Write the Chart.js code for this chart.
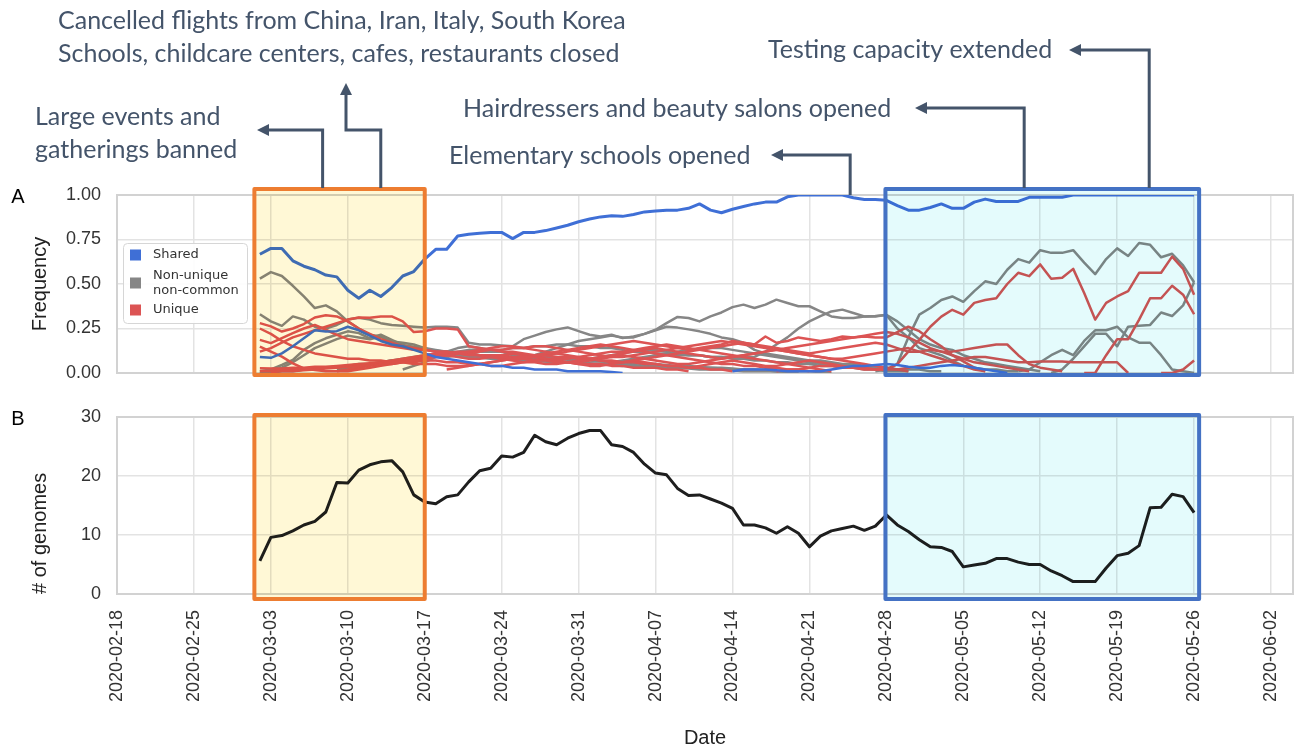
<!DOCTYPE html>
<html>
<head>
<meta charset="utf-8">
<script src="https://cdn.jsdelivr.net/npm/chart.js@4.4.1/dist/chart.umd.min.js"></script>
<style>
  html, body { margin: 0; padding: 0; background: #fff; overflow: hidden; }
  #wrap { position: relative; width: 1298px; height: 747px; }
  canvas { position: absolute; left: 0; }
</style>
</head>
<body>
<div id="wrap">
  <canvas id="freqChart" width="1298" height="380" style="top:0"></canvas>
  <canvas id="genomeChart" width="1298" height="358" style="top:392px"></canvas>
</div>
<script>
// ---- data (daily values, each series starts at the date given next to it) ----
const tickDates = ['2020-02-18','2020-02-25','2020-03-03','2020-03-10','2020-03-17','2020-03-24','2020-03-31','2020-04-07',
  '2020-04-14','2020-04-21','2020-04-28','2020-05-05','2020-05-12','2020-05-19','2020-05-26','2020-06-02'];
const groupLabels = { shared: ['Shared'], nonunique: ['Non-unique', 'non-common'], unique: ['Unique'] };

// Shared
const shared1 = [0.667,0.70,0.70,0.63,0.60,0.58,0.55,0.54,0.465,0.42,
  0.465,0.43,0.48,0.545,0.57,0.64,0.695,0.695,0.77,0.78,
  0.785,0.79,0.79,0.755,0.79,0.79,0.80,0.815,0.83,0.85,
  0.865,0.877,0.883,0.88,0.89,0.905,0.91,0.915,0.915,0.925,
  0.95,0.915,0.90,0.92,0.935,0.95,0.96,0.96,0.99,1.0,
  1.0,1.0,1.0,1.0,0.985,0.975,0.975,0.97,0.94,0.915,
  0.915,0.93,0.95,0.925,0.925,0.96,0.977,0.964,0.964,0.964,
  0.987,0.987,0.987,0.987,1.0,1.0,1.0,1.0,1.0,1.0,
  1.0,1.0,1.0,1.0,1.0,1.0];
const shared2 = [0.09,0.085,0.11,0.15,0.195,0.24,0.233,0.235,0.26,0.24,
  0.21,0.18,0.16,0.15,0.13,0.11,0.09,0.08,0.07,0.06,
  0.05,0.04,0.04,0.03,0.03,0.02,0.02,0.02,0.01,0.01,
  0.01,0.01,0.005,0];
const shared3 = [0.01,0.02,0.02,0.02,0.015,0.01,0.01,0.01,0.01,0.02,0.03,0.04,0.04,0.045,0.05,0.045,0.035,0.03,0.03,0.04,
  0.045,0.04,0.03,0.02,0.01,0];

// Non-unique non-common
const grayA = [0.53,0.567,0.545,0.49,0.43,0.365,0.38,0.346,0.29,0.25,
  0.215,0.205,0.177,0.17,0.16,0.14,0.13,0.12,0.11,0.10,
  0.09,0.085,0.08,0.08,0.075,0.07,0.065,0.06,0.06,0.055,
  0.05,0.05,0.045,0.04,0.04,0.035,0.03,0.03,0.03,0.025,
  0.02,0.02,0.02,0.015,0.01,0.01,0.01,0.01,0.005,0];
const grayB = [0.33,0.29,0.265,0.318,0.30,0.26,0.25,0.27,0.30,0.31,
  0.30,0.28,0.27,0.265,0.26,0.255,0.26,0.26,0.255,0.17,
  0.16,0.16,0.155,0.15,0.19,0.21,0.23,0.245,0.256,0.235,
  0.215,0.205,0.215,0.196,0.205,0.22,0.243,0.28,0.315,0.309,
  0.29,0.318,0.34,0.37,0.384,0.365,0.384,0.412,0.393,0.375,
  0.375,0.346,0.318,0.309,0.309,0.318,0.32,0.326,0.25,0.20,
  0.14,0.12,0.10,0.07,0.04,0.03,0.02,0.02,0.01,0.01];
const grayC = [0.01,0.02,0.045,0.073,0.13,0.168,0.195,0.215,0.234,0.224,
  0.195,0.215,0.186,0.158,0.148,0.139,0.12,0.11,0.10,0.09,
  0.085,0.08,0.08,0.075,0.07,0.07,0.065,0.06,0.06,0.06,
  0.055,0.05,0.05,0.05,0.045,0.04,0.04,0.04,0.035,0.03,
  0.03,0.03,0.025,0.02,0.02,0.02,0.015,0.01,0.01,0.01,
  0.01,0.005,0];
const grayD = [0.0,0.01,0.03,0.06,0.10,0.14,0.165,0.19,0.21,0.20,
  0.19,0.205,0.17,0.15,0.14,0.13,0.125,0.12,0.115,0.11,
  0.10,0.10,0.095,0.09,0.09,0.085,0.08,0.08,0.075,0.07,
  0.07,0.065,0.06,0.06,0.055,0.05,0.05,0.045,0.04,0.04,
  0.035,0.03,0.03,0.025,0.02,0.02,0.015,0.01,0.01,0.005];
const grayE = [0.02,0.03,0.04,0.05,0.06,0.07,0.07,0.08,0.08,0.09,
  0.09,0.10,0.11,0.12,0.12,0.13,0.14,0.14,0.15,0.15,
  0.16,0.16,0.15,0.15,0.14,0.14,0.13,0.12,0.12,0.11,
  0.11,0.10,0.10,0.10,0.09,0.09,0.09,0.09,0.09,
  0.12,0.16,0.20,0.25,0.29,0.32,0.346,0.356,0.337,0.318,
  0.318,0.327,0.29,0.24,0.19,0.16,0.14,0.13,0.10,0.08,
  0.06,0.05,0.04,0.03,0.02,0.01];
const grayF = [0.10,0.12,0.14,0.16,0.18,0.19,0.20,0.21,0.20,0.20,
  0.22,0.24,0.26,0.255,0.245,0.234,0.22,0.20,0.19,0.17,
  0.13,0.11,0.10,0.09,0.08,0.07,0.07,0.06,0.05,0.05,
  0.04,0.04,0.03,0.02,0.01];
const grayG = [0.0,0.0,0.01,0.01,0.02,0.02,0.03,0.03,0.04,0.05,
  0.05,0.06,0.07,0.08,0.09,0.10,0.11,0.12,0.12,0.13,
  0.13,0.12,0.12,0.11,0.10,0.10,0.09,0.09,0.08,0.08,
  0.08,0.09,0.10,0.11,0.12,0.13,0.13,0.12,0.11,0.10,
  0.10,0.09,0.09,0.08,0.08,0.07,0.07,0.06,0.06,0.05,
  0.05,0.04,0.04,0.03,0.03,0.02,0.02,0.01,0.01,0.01];
const grayH = [0.02,0.04,0.06,0.09,0.12,0.14,0.15,
  0.14,0.13,0.12,0.10,0.09,0.08,0.07,0.07,0.06,0.06,
  0.05,0.05,0.06,0.07,0.08,0.09,0.10,0.11,0.12,0.13,
  0.13,0.14,0.14,0.13,0.12,0.11,0.10,0.09,0.08,0.07,
  0.06,0.05,0.05,0.04,0.04,0.03,0.03,0.03,0.02,0.02,
  0.02,0.01,0.01];
const gray1 = [0.01,0.02,0.05,0.20,0.328,0.365,0.41,0.43,0.40,0.46,
  0.515,0.50,0.58,0.64,0.62,0.69,0.675,0.675,0.69,0.62,
  0.555,0.64,0.70,0.657,0.73,0.72,0.65,0.67,0.605,0.51];
const gray2 = [0.01,0.02,0.06,0.10,0.13,0.10,0.18,0.24,0.24,0.26,0.20,0.17,0.17,0.10,0.02,0.01,0.0];
const gray3 = [0.0,0.02,0.08,0.15,0.22,0.22,0.15,0.26,0.265,0.27,0.34,0.32,0.38,0.51];

// Unique
const redA = [0.28,0.262,0.233,0.25,0.275,0.312,0.324,0.318,0.29,0.25,
  0.22,0.19,0.17,0.15,0.14,0.13,0.12,0.12,0.11,0.10,
  0.10,0.09,0.09,0.08,0.08,0.07,0.07,0.06,0.06,0.05,
  0.05,0.05,0.04,0.04,0.03,0.03,0.03,0.02,0.02,0.01];
const redB = [0.12,0.14,0.17,0.20,0.22,0.24,0.26,0.28,0.30,0.312,
  0.31,0.318,0.318,0.29,0.23,0.235,0.25,0.25,0.245,0.15,
  0.14,0.13,0.12,0.12,0.11,0.10,0.10,0.09,0.09,0.08,
  0.08,0.07,0.07,0.06,0.06,0.05,0.05,0.04,0.04,0.03,
  0.03,0.02,0.02,0.01];
const redC = [0.186,0.168,0.196,0.224,0.25,0.27,0.243,0.214,0.19,0.18,
  0.17,0.16,0.15,0.14,0.13,0.13,0.12,0.12,0.11,0.11,
  0.10,0.10,0.10,0.09,0.09,0.09,0.08,0.08,0.08,0.09,
  0.10,0.11,0.12,0.12,0.13,0.14,0.15,0.16,0.15,0.14,
  0.13,0.12,0.11,0.10,0.09,0.08,0.07,0.06,0.05,0.04,
  0.03,0.02,0.01];
const redD = [0.25,0.22,0.18,0.15,0.13,0.11,0.10,0.09,0.08,0.08,
  0.07,0.07,0.06,0.06,0.05,0.05,0.05,0.04,0.04,0.04,
  0.05,0.06,0.07,0.08,0.09,0.10,0.11,0.12,0.13,0.14,
  0.15,0.16,0.15,0.14,0.13,0.12,0.11,0.10,0.09,0.08,
  0.07,0.06,0.05,0.05,0.04,0.04,0.03,0.03,0.02,0.02,
  0.01];
const redE = [0.148,0.12,0.092,0.054,0.026,0.017,0.01,0.01,0.01,0.02,
  0.03,0.04,0.05,0.06,0.07,0.08,0.09,0.10,0.11,0.12,
  0.13,0.14,0.15,0.15,0.14,0.13,0.12,0.11,0.10,0.09,
  0.08,0.07,0.06,0.06,0.07,0.08,0.09,0.10,0.11,0.12,
  0.13,0.14,0.15,0.16,0.17,0.16,0.15,0.14,0.13,0.12,
  0.11,0.12,0.13,0.14,0.15,0.16,0.17,0.16,0.14,0.12,
  0.12,0.13,0.12,0.12,0.13,0.14,0.15,0.16,0.16,0.10,
  0.05,0.03,0.02,0.01];
const redF = [0.026,0.025,0.025,0.03,0.03,0.035,0.035,0.04,0.045,0.05,
  0.055,0.06,0.07,0.08,0.09,0.10,0.11,0.11,0.12,0.12,
  0.12,0.13,0.13,0.14,0.14,0.15,0.15,0.14,0.13,0.12,
  0.11,0.10,0.09,0.09,0.10,0.11,0.12,0.13,0.14,0.15,
  0.16,0.17,0.18,0.17,0.16,0.15,0.14,0.13,0.12,0.11,
  0.10,0.09,0.08,0.07,0.06,0.05,0.04,0.03,0.02,0.01];
const redG = [0.005,0.01,0.01,0.015,0.02,0.025,0.03,0.035,0.04,
  0.045,0.05,0.06,0.07,0.08,0.09,0.10,0.10,0.11,0.11,
  0.10,0.09,0.08,0.07,0.06,0.06,0.05,0.05,0.06,0.07,
  0.08,0.09,0.10,0.11,0.12,0.13,0.14,0.13,0.12,0.11,
  0.10,0.09,0.08,0.09,0.10,0.11,0.12,0.13,0.14,0.15,
  0.16,0.17,0.18,0.19,0.20,0.205,0.20,0.20,0.23,0.26,
  0.235,0.19,0.15,0.10,0.065,0.03,0.01];
const redH = [0.02,0.03,0.04,0.05,0.06,0.07,0.08,0.08,0.09,0.10,
  0.11,0.12,0.13,0.14,0.15,0.16,0.17,0.18,0.17,0.16,
  0.15,0.14,0.13,0.14,0.15,0.16,0.18,0.17,0.16,0.205,
  0.17,0.18,0.20,0.19,0.18,0.19,0.205,0.20,0.21,0.22,
  0.23,0.22,0.20,0.17,0.14,0.12,0.10,0.08,0.06,0.05,
  0.04,0.03,0.02,0.01];
const redI = [0.01,0.01,0.02,0.02,0.02,0.03,0.03,0.03,0.04,0.04,
  0.05,0.05,0.05,0.06,0.06,0.07,0.07,0.06,0.06,0.05,
  0.05,0.04,0.04,0.05,0.06,0.07,0.08,0.07,0.06,0.05,
  0.04,0.04,0.05,0.06,0.07,0.06,0.05,0.04,0.04,0.03,
  0.04,0.05,0.06,0.07,0.06,0.05,0.04,0.04,0.05,0.06,
  0.07,0.06,0.05,0.04,0.03,0.03,0.02,0.02,0.02,0.03,
  0.04,0.05,0.06,0.07,0.08,0.09,0.09,0.08,0.07,0.06,
  0.06,0.065,0.065,0.065,0.06,0.06,0.06,0.06,0.06,0.0];
const redJ = [0.01,0.02,0.03,0.04,0.05,0.06,0.07,0.08,0.09,0.10,
  0.10,0.09,0.08,0.08,0.09,0.10,0.11,0.10,0.09,0.08,
  0.07,0.06,0.06,0.07,0.08,0.09,0.10,0.09,0.08,0.07,
  0.06,0.05,0.05,0.06,0.07,0.08,0.09,0.10,0.11,0.12,
  0.13,0.12,0.11,0.10,0.09,0.08,0.08,0.09,0.10,0.11,
  0.12,0.13,0.14,0.12,0.10,0.08,0.06,0.04,0.02,0.01];
const red1 = [0.01,0.02,0.02,0.03,0.04,0.04,0.03,0.03,0.02,0.02,
  0.02,0.05,0.12,0.186,0.26,0.317,0.355,0.328,0.394,0.41,
  0.42,0.50,0.563,0.544,0.61,0.53,0.535,0.585,0.45,0.30,
  0.394,0.43,0.46,0.563,0.563,0.563,0.654,0.585,0.44];
const red2 = [0.0,0.0,0.10,0.19,0.19,0.30,0.42,0.42,0.49,0.44,0.33];
const red3 = [0.0,0.0,0.02,0.07];

// # of genomes, daily from 2020-03-02
const genomes = [5.6,9.6,9.9,10.7,11.7,12.3,13.9,18.9,18.8,21.0,
  21.9,22.4,22.6,20.7,16.8,15.6,15.3,16.5,16.8,19.0,
  20.9,21.3,23.4,23.2,24.0,26.9,25.8,25.3,26.4,27.2,
  27.7,27.7,25.3,25.0,24.0,22.0,20.5,20.2,17.9,16.7,
  16.8,16.1,15.4,14.5,11.7,11.7,11.2,10.3,11.4,10.3,
  8.0,9.8,10.7,11.1,11.5,10.8,11.5,13.4,11.7,10.6,
  9.2,8.0,7.9,7.2,4.6,4.9,5.2,6.0,6.0,5.4,
  5.0,5.0,3.9,3.1,2.1,2.1,2.1,4.4,6.5,6.9,
  8.2,14.6,14.7,16.9,16.5,13.8];

const freqLines = [
  ['nonunique','2020-03-02',grayA], ['nonunique','2020-03-02',grayB], ['nonunique','2020-03-02',grayC],
  ['nonunique','2020-03-02',grayD], ['nonunique','2020-03-09',grayE], ['nonunique','2020-03-27',grayF],
  ['nonunique','2020-03-02',grayG], ['nonunique','2020-03-15',grayH], ['nonunique','2020-04-27',gray1],
  ['nonunique','2020-05-10',gray2], ['nonunique','2020-05-13',gray3],
  ['unique','2020-03-02',redA], ['unique','2020-03-02',redB], ['unique','2020-03-02',redC],
  ['unique','2020-03-02',redD], ['unique','2020-03-02',redE], ['unique','2020-03-02',redF],
  ['unique','2020-03-03',redG], ['unique','2020-03-19',redH], ['unique','2020-03-02',redI],
  ['unique','2020-03-09',redJ], ['unique','2020-04-18',red1], ['unique','2020-05-16',red2],
  ['unique','2020-05-23',red3],
  ['shared','2020-04-14',shared3], ['shared','2020-03-02',shared2], ['shared','2020-03-02',shared1],
];

// periods highlighted in both panels (tint multiplied over the plot)
const periods = [
  { from: '2020-03-01T12:00:00Z', to: '2020-03-17T00:00:00Z', tint: '#fff8d6', edge: '#ed7d31' },
  { from: '2020-04-27T22:00:00Z', to: '2020-05-26T11:00:00Z', tint: '#e4fbfc', edge: '#4472c4' },
];

// measures above panel A
const events = [
  { text: ['Large events and', 'gatherings banned'], tx: 35, ty: 117, at: '2020-03-07T17:00:00Z', path: [[130], [257, 130]] },
  { text: ['Cancelled flights from China, Iran, Italy, South Korea', 'Schools, childcare centers, cafes, restaurants closed'],
    tx: 58, ty: 21, at: '2020-03-13T00:00:00Z', path: [[130], [346, 130], [346, 83]] },
  { text: ['Elementary schools opened'], tx: 449, ty: 156, at: '2020-04-24T17:00:00Z', path: [[155], [771, 155]], fromTop: true },
  { text: ['Hairdressers and beauty salons opened'], tx: 463, ty: 109, at: '2020-05-10T13:00:00Z', path: [[108], [915, 108]] },
  { text: ['Testing capacity extended'], tx: 768, ty: 50, at: '2020-05-21T22:00:00Z', path: [[50], [1069, 50]] },
];

const COLORS = { shared: '#3f6fd6', nonunique: '#868686', unique: '#dc5454' };
const ORDER = { shared: 0, unique: 1, nonunique: 2 };
const T0 = Date.UTC(2020, 1, 18);
const dayOf = s => (Date.parse(s) - T0) / 864e5;

Chart.defaults.font.family = "'Liberation Sans', Arial, sans-serif";
Chart.defaults.color = '#333';

function xAxis(labels){
  return {
    type: 'linear', min: 0, max: 107,
    grid: { color: '#e3e3e3', lineWidth: 1.5, drawTicks: false },
    border: { display: false },
    ticks: { display: labels, stepSize: 7, includeBounds: false, autoSkip: false, maxRotation: 90, minRotation: 90,
      padding: 16, font: { size: 18 }, color: '#333', callback: v => tickDates[v / 7] || '' },
    title: { display: labels, text: 'Date', font: { size: 20 }, color: '#222', padding: { top: 0, bottom: 0 } },
    // fixed axis height, no extra side padding for the rotated labels
    afterFit: s => { s.height = labels ? 156 : 0; s.paddingLeft = 0; s.paddingRight = 0; },
  };
}
function yAxis(max, step, title, fmt, align){
  return {
    min: 0, max,
    grid: { color: '#e3e3e3', lineWidth: 1.5, drawTicks: false },
    border: { display: false },
    ticks: { stepSize: step, padding: 16, font: { size: 18 }, color: '#333', callback: fmt },
    title: { display: true, text: title, align, font: { size: 20 }, color: '#222', padding: { top: 28, bottom: 0 } },
    afterFit: s => { s.width = 117; s.paddingTop = 0; s.paddingBottom = 0; },
  };
}

const frameAndBoxes = {
  id: 'frameAndBoxes',
  beforeDatasetsDraw(chart){
    const { ctx, chartArea: a } = chart;
    ctx.save(); ctx.strokeStyle = '#d2d2d2'; ctx.lineWidth = 2;
    ctx.strokeRect(a.left, a.top, a.width, a.height); ctx.restore();
  },
  afterDatasetsDraw(chart, args, opts){
    const { ctx, chartArea: a, scales: { x } } = chart;
    periods.forEach(p => {
      const l = x.getPixelForValue(dayOf(p.from)), r = x.getPixelForValue(dayOf(p.to));
      const t = a.top - opts.padTop, b = a.bottom + opts.padBottom;
      ctx.save();
      ctx.globalCompositeOperation = 'multiply';
      ctx.fillStyle = p.tint; ctx.fillRect(l, t, r - l, b - t);
      ctx.globalCompositeOperation = 'source-over';
      ctx.strokeStyle = p.edge; ctx.lineWidth = 4; ctx.lineJoin = 'round'; ctx.strokeRect(l, t, r - l, b - t);
      ctx.restore();
    });
    ctx.save(); ctx.fillStyle = '#000'; ctx.font = "20px 'Liberation Sans', Arial"; ctx.textAlign = 'center'; ctx.textBaseline = 'middle';
    ctx.fillText(opts.letter, 18, a.top + 2); ctx.restore();
  }
};

function arrowPath(ctx, pts){
  const n = pts.length, [tx, ty] = pts[n - 1], [px, py] = pts[n - 2];
  const len = Math.hypot(tx - px, ty - py), ux = (tx - px) / len, uy = (ty - py) / len, head = 12;
  ctx.beginPath(); ctx.moveTo(pts[0][0], pts[0][1]);
  for (let i = 1; i < n - 1; i++) ctx.lineTo(pts[i][0], pts[i][1]);
  ctx.lineTo(tx - ux * head, ty - uy * head); ctx.stroke();
  ctx.beginPath(); ctx.moveTo(tx, ty);
  ctx.lineTo(tx - ux * head - uy * 6, ty - uy * head + ux * 6);
  ctx.lineTo(tx - ux * head + uy * 6, ty - uy * head - ux * 6);
  ctx.closePath(); ctx.fill();
}

const decor = {
  id: 'decor',
  afterDraw(chart){
    const { ctx, chartArea: a, scales: { x } } = chart;
    // legend
    ctx.save();
    ctx.fillStyle = 'rgba(255,255,255,0.9)'; ctx.strokeStyle = '#d6d6d6'; ctx.lineWidth = 1;
    ctx.beginPath(); ctx.roundRect(123.5, 243.5, 124, 80, 4); ctx.fill(); ctx.stroke();
    ctx.font = "13px 'DejaVu Sans'"; ctx.textBaseline = 'middle';
    [['shared', 255], ['nonunique', 283], ['unique', 310]].forEach(([g, y]) => {
      ctx.fillStyle = COLORS[g]; ctx.fillRect(130, y - 5.5, 11, 11);
      ctx.fillStyle = '#333';
      const lines = groupLabels[g];
      lines.forEach((t, i) => ctx.fillText(t, 153, y + (i - (lines.length - 1) / 2) * 15));
    });
    ctx.restore();
    // events
    ctx.save();
    ctx.strokeStyle = '#44546a'; ctx.fillStyle = '#44546a'; ctx.lineWidth = 3; ctx.lineJoin = 'miter';
    events.forEach(e => {
      const sx = x.getPixelForValue(dayOf(e.at));
      const pts = [[sx, e.fromTop ? a.top : a.top - 7], [sx, e.path[0][0]], ...e.path.slice(1)];
      arrowPath(ctx, pts);
    });
    ctx.font = "25px Lato"; ctx.textBaseline = 'middle'; ctx.textAlign = 'left';
    events.forEach(e => e.text.forEach((t, i) => ctx.fillText(t, e.tx, e.ty + i * 33)));
    ctx.restore();
  }
};

new Chart(document.getElementById('freqChart'), {
  type: 'line',
  data: {
    datasets: freqLines.map(([g, from, vals]) => ({
      label: groupLabels[g].join(' '),
      data: vals.map((y, i) => ({ x: dayOf(from) + i, y })),
      borderColor: COLORS[g], borderWidth: vals === shared1 ? 3 : 2.5,
      order: ORDER[g], pointRadius: 0, tension: 0, borderJoinStyle: 'round', fill: false,
    }))
  },
  options: {
    responsive: false, animation: false, devicePixelRatio: 1,
    layout: { padding: { top: 195, right: 5, bottom: 7, left: 0 } },
    plugins: { legend: { display: false }, tooltip: { enabled: false },
      frameAndBoxes: { padTop: 6, padBottom: 2, letter: 'A' } },
    scales: { x: xAxis(false), y: yAxis(1, 0.25, 'Frequency', v => v.toFixed(2), 'center') }
  },
  plugins: [frameAndBoxes, decor]
});

new Chart(document.getElementById('genomeChart'), {
  type: 'line',
  data: {
    datasets: [{
      label: '# of genomes',
      data: genomes.map((y, i) => ({ x: dayOf('2020-03-02') + i, y })),
      borderColor: '#1e1e1e', borderWidth: 3, pointRadius: 0, tension: 0, borderJoinStyle: 'round', fill: false,
    }]
  },
  options: {
    responsive: false, animation: false, devicePixelRatio: 1,
    layout: { padding: { top: 25, right: 5, bottom: 0, left: 0 } },
    plugins: { legend: { display: false }, tooltip: { enabled: false },
      frameAndBoxes: { padTop: 2, padBottom: 5, letter: 'B' } },
    scales: { x: xAxis(true), y: yAxis(30, 10, '# of genomes', v => v, 'start') }
  },
  plugins: [frameAndBoxes]
});
</script>
</body>
</html>
